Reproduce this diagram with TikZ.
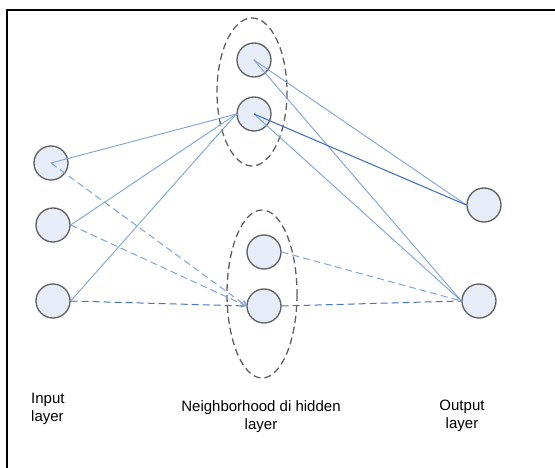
\documentclass[tikz,border=0pt]{standalone}
\usepackage{fontspec}
\setmainfont{Liberation Sans}
\usetikzlibrary{arrows.meta}
\definecolor{nodefill}{RGB}{230,237,248}
\definecolor{nodeline}{RGB}{95,95,95}
\definecolor{lightlink}{RGB}{125,163,216}
\definecolor{darklink}{RGB}{68,114,196}
\tikzset{
	neuron/.style={circle,draw=nodeline,fill=nodefill,line width=1.3pt,minimum size=34pt,inner sep=0pt},
	link/.style={lightlink,line width=0.9pt},
	dlink/.style={lightlink,line width=1pt,dash pattern=on 7pt off 4pt},
	group/.style={nodeline,line width=1.3pt,dash pattern=on 7pt off 4pt},
	label/.style={font=\fontsize{15}{18}\selectfont,inner sep=0pt}
}

\begin{document}
\begin{tikzpicture}[x=1pt,y=-1pt]
	\useasboundingbox (0,0) rectangle (555,468);
	% cadre
	\draw[line width=2pt] (7,468) -- (7,10) -- (555,10);

	% couche d'entree
	\node[neuron] (in1) at (51,163) {};
	\node[neuron] (in2) at (53,225) {};
	\node[neuron] (in3) at (53,301) {};

	% voisinage de la couche cachee
	\draw[group] (252,92) ellipse (35 and 74);
	\draw[group] (262,294) ellipse (35 and 84);
	\node[neuron] (hid1) at (254,60) {};
	\node[neuron] (hid2) at (254,114) {};
	\node[neuron] (hid3) at (264,252) {};
	\node[neuron] (hid4) at (264,306) {};

	% couche de sortie
	\node[neuron] (out1) at (484,205) {};
	\node[neuron] (out2) at (479,301) {};

	% liens pleins
	\draw[link] (in1.center) -- (hid2.west);
	\draw[link] (in2.east) -- (hid2.west);
	\draw[link] (in3.east) -- (hid2.west);
	\draw[link] (hid1.center) -- (out1.west);
	\draw[link] (hid1.center) -- (out2.west);
	\draw[link] (hid2.center) -- (out2.west);
	\draw[darklink,line width=1.1pt] (hid2.center) -- (out1.west);

	% liens pointilles
	\draw[dlink,-{Straight Barb[length=4pt,width=7pt]}] (in1.center) -- (hid4.west);
	\draw[dlink,-{Straight Barb[length=4pt,width=7pt]}] (in2.east) -- (hid4.west);
	\draw[dlink,darklink] (in3.east) -- (hid4.west);
	\draw[dlink] (hid3.east) -- (out2.west);
	\draw[dlink,darklink] (hid4.east) -- (out2.west);

	% legendes
	\node[label,align=left,anchor=north west] (inlab) at (31,393) {Input\\layer};
	\node[label,align=center,anchor=north] (hidlab) at (261,400) {Neighborhood di hidden\\layer};
	\node[label,align=center,anchor=north] (outlab) at (462,400) {Output\\layer};
\end{tikzpicture}
\end{document}
